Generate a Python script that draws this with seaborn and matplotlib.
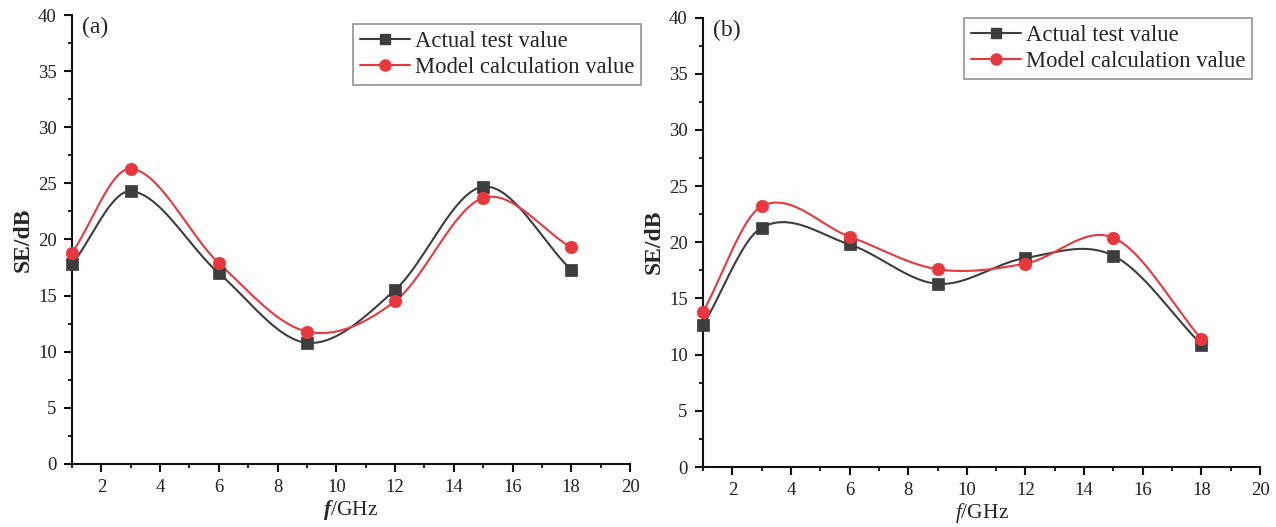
import numpy as np
import pandas as pd
import matplotlib
matplotlib.use("Agg")
import matplotlib.pyplot as plt
from matplotlib.lines import Line2D
from matplotlib.ticker import MultipleLocator
import seaborn as sns

freq = [1, 3, 6, 9, 12, 15, 18]
actual_a = [17.8, 24.3, 17.0, 10.8, 15.5, 24.7, 17.3]
model_a = [18.8, 26.3, 17.9, 11.8, 14.5, 23.7, 19.3]
actual_b = [12.6, 21.3, 19.8, 16.3, 18.6, 18.8, 10.9]
model_b = [13.8, 23.2, 20.5, 17.6, 18.1, 20.4, 11.4]
panel_labels = ["(a)", "(b)"]
series_names = ["Actual test value", "Model calculation value"]
xticks = [2, 4, 6, 8, 10, 12, 14, 16, 18, 20]
yticks = [0, 5, 10, 15, 20, 25, 30, 35, 40]

GRAY = "#3d3d3d"
RED = "#e8383e"


def smooth_curve(x, y, n=40):
    """Cubic Hermite (Catmull-Rom style) curve through the data points."""
    x = np.asarray(x, float)
    y = np.asarray(y, float)
    k = len(x)
    m = np.empty(k)
    m[0] = (y[1] - y[0]) / (x[1] - x[0])
    m[-1] = (y[-1] - y[-2]) / (x[-1] - x[-2])
    for i in range(1, k - 1):
        m[i] = (y[i + 1] - y[i - 1]) / (x[i + 1] - x[i - 1])
    xs_all, ys_all = [], []
    for i in range(k - 1):
        h = x[i + 1] - x[i]
        t = np.linspace(0, 1, n, endpoint=(i == k - 2))
        h00 = 2 * t ** 3 - 3 * t ** 2 + 1
        h10 = t ** 3 - 2 * t ** 2 + t
        h01 = -2 * t ** 3 + 3 * t ** 2
        h11 = t ** 3 - t ** 2
        xs_all.append(x[i] + t * h)
        ys_all.append(h00 * y[i] + h10 * h * m[i] + h01 * y[i + 1] + h11 * h * m[i + 1])
    return np.concatenate(xs_all), np.concatenate(ys_all)


sns.set_theme(style="ticks")
plt.rcParams["font.family"] = ["Liberation Serif", "DejaVu Serif"]
plt.rcParams["mathtext.fontset"] = "custom"
plt.rcParams["mathtext.rm"] = "Liberation Serif"
plt.rcParams["mathtext.it"] = "Liberation Serif:italic"
plt.rcParams["mathtext.bf"] = "Liberation Serif:bold"
plt.rcParams["mathtext.bfit"] = "Liberation Serif:bold:italic"

fig = plt.figure(figsize=(12.76, 5.27), dpi=100)
W, H = 1276, 527
axes_px = [(72, 630, 15, 464), (703, 1260, 17.5, 467)]
legend_px = [(353, 24), (964, 18)]
data = [(actual_a, model_a), (actual_b, model_b)]

for idx in range(2):
    l, r, t, btm = axes_px[idx]
    ax = fig.add_axes([l / W, 1 - btm / H, (r - l) / W, (btm - t) / H])
    act, mod = data[idx]
    for vals, col, mk, ms in [(act, GRAY, "s", 8), (mod, RED, "o", 9)]:
        xs, ys = smooth_curve(freq, vals)
        sns.lineplot(x=xs, y=ys, ax=ax, color=col, linewidth=1.5, sort=False)
        sns.scatterplot(x=freq, y=vals, ax=ax, color=col, marker=mk, s=ms ** 2,
                        edgecolor=col, linewidth=0.5, zorder=3, clip_on=False)
    ax.set_xlim(1, 20)
    ax.set_ylim(0, 40)
    ax.set_xticks(xticks)
    ax.set_yticks(yticks)
    ax.xaxis.set_minor_locator(MultipleLocator(1))
    ax.yaxis.set_minor_locator(MultipleLocator(2.5))
    ax.tick_params(which="major", direction="out", length=6, width=1.5,
                   labelsize=13.5, color="#111111", labelcolor="#222222", pad=5)
    ax.tick_params(which="minor", direction="out", length=3, width=1.3, color="#111111")
    sns.despine(ax=ax)
    for s in ["left", "bottom"]:
        ax.spines[s].set_linewidth(1.5)
        ax.spines[s].set_color("#111111")
    ax.set_ylabel("SE/dB", fontsize=17, fontweight="bold", labelpad=3)
    if idx == 0:
        ax.set_xlabel(r"$\boldsymbol{f}$/GHz", fontsize=15.5, labelpad=1)
    else:
        ax.set_xlabel(r"$f$/GHz", fontsize=15.5, labelpad=1)
    ax.text(0.018, 0.995, panel_labels[idx], transform=ax.transAxes,
            fontsize=17, va="top", ha="left")
    handles = [Line2D([0], [0], color=GRAY, lw=1.5, marker="s", markersize=7,
                      markerfacecolor=GRAY, markeredgecolor=GRAY),
               Line2D([0], [0], color=RED, lw=1.5, marker="o", markersize=8,
                      markerfacecolor=RED, markeredgecolor=RED)]
    lx, ly = legend_px[idx]
    leg = fig.legend(handles, series_names, loc="upper left",
                     bbox_to_anchor=(lx / W, 1 - ly / H),
                     fontsize=16.3, frameon=True, fancybox=False,
                     handlelength=2.2, handletextpad=0.25, labelspacing=0.22,
                     borderpad=0.3, borderaxespad=0)
    leg.get_frame().set_edgecolor("#777777")
    leg.get_frame().set_linewidth(1.2)

fig.savefig("out.png", dpi=100)
